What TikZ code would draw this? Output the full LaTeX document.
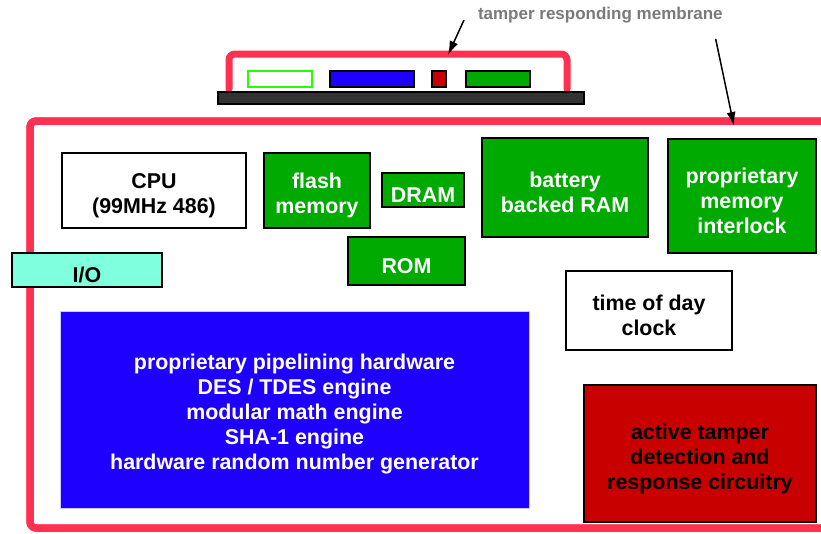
\documentclass[tikz,border=0pt]{standalone}
\usepackage{fontspec}
\setmainfont{Liberation Sans}
\usetikzlibrary{arrows.meta}% arrow tips for the membrane pointers
\definecolor{membranered}{HTML}{FF3050}
\definecolor{chipgreen}{HTML}{00AA00}
\definecolor{engineblue}{HTML}{1E00FF}
\definecolor{tamperred}{HTML}{C80000}
\definecolor{iocyan}{HTML}{80FFDF}
\definecolor{barfill}{HTML}{333333}
\definecolor{labelgray}{HTML}{7A7A7A}
\tikzset{every node/.style={font=\bfseries\fontsize{21.4}{25}\selectfont,
    align=center, inner sep=0pt, outer sep=0pt},
  part/.style={draw=black, line width=1.4pt, fill=#1},
  part/.default=white,
  greenpart/.style={part=chipgreen, text=white},
  membrane/.style={membranered, line width=7pt, line cap=round,
    rounded corners=6pt},
  tamperarrow/.style={-{Latex[length=14pt,width=9pt]}, line width=1.5pt}}
% box from its top left to its bottom right corner, text set a bit low
\newcommand{\partnode}[7][part]{%
  \node[#1, anchor=north west, minimum width=#5pt-#3pt,
    minimum height=#6pt-#4pt] (#2) at (#3,#4) {};
  \node[#1, draw=none, fill=none] at ([yshift=-5pt]#2.center) {#7};}

\begin{document}
\begin{tikzpicture}[x=1pt,y=-1pt]
  \useasboundingbox (0,0) rectangle (821,533);
  % membrane over the slots
  \draw[membrane] (229,89) -- (229,54) -- (567,54) -- (567,89);
  \partnode[part=barfill]{bar}{218}{92}{584}{104}{}
  \foreach \i/\xa/\xb/\col/\edge in {1/248/312/white/green!80!lime,
    2/330/414/engineblue/black, 3/432/446/tamperred/black,
    4/466/530/chipgreen/black}
    \partnode[draw=\edge, fill=\col, line width=1.5pt]{slot\i}{\xa}{71}{\xb}{87}{}
  % the secure enclosure
  \draw[membrane] (830,121) -- (30,121) -- (30,528) -- (830,528);
  \partnode{cpu}{62}{153}{246}{228}{CPU\\(99MHz 486)}
  \partnode[part=iocyan]{io}{12}{253}{162}{287}{I/O}
  \partnode[greenpart]{flash}{264}{153}{370}{228}{flash\\memory}
  \partnode[greenpart]{dram}{382}{173}{464}{207}{DRAM}
  \partnode[greenpart]{rom}{348}{237}{465}{285}{ROM}
  \partnode[greenpart]{bbram}{482}{138}{648}{237}{battery\\backed RAM}
  \partnode[greenpart]{interlock}{668}{139}{816}{253}{proprietary\\memory\\interlock}
  \partnode{clock}{566}{271}{732}{350}{time of day\\clock}
  \partnode[part=tamperred]{tamper}{584}{385}{816}{522}
    {active tamper\\detection and\\response circuitry}
  \partnode[draw=blue!20, line width=1pt, fill=engineblue, text=white]
    {engine}{60}{311}{529}{508}
    {proprietary pipelining hardware\\DES / TDES engine\\modular math engine\\SHA-1 engine\\hardware random number generator}
  % pointers to both membranes
  \node[anchor=west, text=labelgray, font=\bfseries\fontsize{17}{20}\selectfont]
    (tamperlabel) at (478,15) {tamper responding membrane};
  \coordinate (innerhit) at (448,55);
  \coordinate (outerhit) at (734,126);
  \draw[tamperarrow] ([xshift=-14pt,yshift=-5pt]tamperlabel.west) -- (innerhit);
  \draw[tamperarrow] ([xshift=-7pt,yshift=-16pt]tamperlabel.south east) -- (outerhit);
\end{tikzpicture}
\end{document}
